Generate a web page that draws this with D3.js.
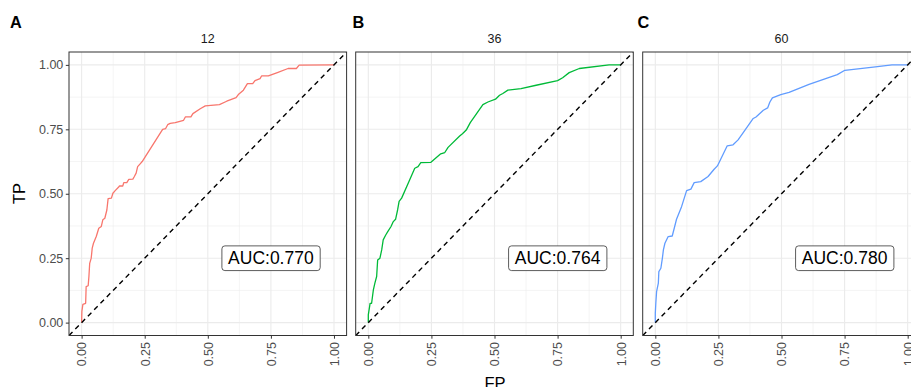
<!DOCTYPE html>
<html><head><meta charset="utf-8">
<script src="https://cdn.jsdelivr.net/npm/d3@7"></script>
<style>body{margin:0;background:#fff}svg{display:block}text{font-family:"Liberation Sans",Arial,sans-serif}</style>
</head><body><svg id="c" width="911" height="387"></svg>
<script>
const panelLetters = ["A","B","C"];
const stripLabels = ["12","36","60"];
const aucLabels = ["AUC:0.770","AUC:0.764","AUC:0.780"];
const colors = ["#F8766D","#00BA38","#619CFF"];
const tickValues = [0,0.25,0.5,0.75,1];
const tickLabels = ["0.00","0.25","0.50","0.75","1.00"];
const roc12 = [[0,0],[0.001,0.043],[0.005,0.071],[0.016,0.075],[0.018,0.14],[0.026,0.143],[0.029,0.18],[0.032,0.23],[0.038,0.25],[0.042,0.289],[0.047,0.308],[0.058,0.334],[0.068,0.366],[0.078,0.373],[0.084,0.399],[0.092,0.405],[0.1,0.437],[0.105,0.481],[0.118,0.483],[0.124,0.502],[0.133,0.512],[0.146,0.525],[0.15,0.53],[0.163,0.53],[0.167,0.543],[0.179,0.543],[0.187,0.556],[0.203,0.557],[0.209,0.567],[0.216,0.58],[0.222,0.605],[0.232,0.616],[0.24,0.625],[0.321,0.75],[0.333,0.753],[0.341,0.768],[0.351,0.773],[0.371,0.776],[0.404,0.785],[0.411,0.798],[0.433,0.798],[0.441,0.811],[0.47,0.83],[0.49,0.841],[0.546,0.846],[0.575,0.859],[0.612,0.873],[0.621,0.885],[0.641,0.902],[0.657,0.927],[0.678,0.927],[0.687,0.939],[0.707,0.947],[0.713,0.957],[0.74,0.957],[0.773,0.969],[0.818,0.986],[0.851,0.986],[0.862,0.999],[0.996,1],[1,1]];
const roc36 = [[0,0],[0,0.03],[0.007,0.075],[0.013,0.075],[0.02,0.127],[0.026,0.153],[0.033,0.179],[0.037,0.243],[0.046,0.25],[0.053,0.282],[0.059,0.321],[0.069,0.34],[0.077,0.353],[0.09,0.373],[0.099,0.392],[0.108,0.401],[0.116,0.437],[0.122,0.47],[0.132,0.483],[0.158,0.541],[0.184,0.599],[0.197,0.605],[0.208,0.621],[0.248,0.622],[0.287,0.655],[0.303,0.66],[0.316,0.68],[0.362,0.724],[0.373,0.733],[0.388,0.747],[0.404,0.776],[0.454,0.846],[0.474,0.856],[0.504,0.867],[0.52,0.882],[0.533,0.889],[0.553,0.902],[0.605,0.908],[0.665,0.921],[0.75,0.939],[0.77,0.95],[0.796,0.97],[0.836,0.986],[0.954,1],[0.994,1],[1,1]];
const roc60 = [[0,0],[0,0.036],[0.002,0.075],[0.005,0.12],[0.012,0.153],[0.014,0.198],[0.022,0.211],[0.028,0.25],[0.032,0.282],[0.038,0.308],[0.051,0.334],[0.067,0.336],[0.075,0.366],[0.084,0.401],[0.104,0.45],[0.124,0.512],[0.141,0.518],[0.154,0.543],[0.18,0.547],[0.209,0.567],[0.233,0.595],[0.246,0.608],[0.285,0.686],[0.308,0.69],[0.328,0.709],[0.356,0.748],[0.388,0.792],[0.399,0.798],[0.428,0.824],[0.445,0.833],[0.454,0.856],[0.464,0.872],[0.497,0.885],[0.53,0.893],[0.609,0.924],[0.675,0.947],[0.721,0.962],[0.751,0.979],[0.872,0.992],[0.938,1],[0.991,1],[1,1]];
const rocs = [roc12, roc36, roc60];

const svg = d3.select("#c");
const panelLeft = [69, 355.7, 642.7], panelW = 277.6, pTop = 52, pBottom = 335.5;
const minorTicks = [-0.125,0.125,0.375,0.625,0.875,1.125];
const y = d3.scaleLinear().domain([-0.05,1.05]).range([pBottom, pTop]);

rocs.forEach((roc, i) => {
  const L = panelLeft[i];
  const x = d3.scaleLinear().domain([-0.05,1.05]).range([L, L+panelW]);
  const g = svg.append("g");
  const clipId = "clip"+i;
  g.append("clipPath").attr("id",clipId).append("rect").attr("x",L).attr("y",pTop).attr("width",panelW).attr("height",pBottom-pTop);
  const pg = g.append("g").attr("clip-path",`url(#${clipId})`);
  minorTicks.forEach(t => {
    pg.append("line").attr("x1",x(t)).attr("x2",x(t)).attr("y1",pTop).attr("y2",pBottom).attr("stroke","#ebebeb").attr("stroke-width",0.55);
    pg.append("line").attr("y1",y(t)).attr("y2",y(t)).attr("x1",L).attr("x2",L+panelW).attr("stroke","#ebebeb").attr("stroke-width",0.55);
  });
  tickValues.forEach(t => {
    pg.append("line").attr("x1",x(t)).attr("x2",x(t)).attr("y1",pTop).attr("y2",pBottom).attr("stroke","#ebebeb").attr("stroke-width",1.1);
    pg.append("line").attr("y1",y(t)).attr("y2",y(t)).attr("x1",L).attr("x2",L+panelW).attr("stroke","#ebebeb").attr("stroke-width",1.1);
  });
  pg.append("path").datum(roc).attr("d", d3.line().x(d=>x(d[0])).y(d=>y(d[1])))
    .attr("fill","none").attr("stroke",colors[i]).attr("stroke-width",1.3).attr("stroke-linejoin","round");
  pg.append("line").attr("x1",x(-0.05)).attr("y1",y(-0.05)).attr("x2",x(1.05)).attr("y2",y(1.05))
    .attr("stroke","#000").attr("stroke-width",1.4).attr("stroke-dasharray","5,4");
  const lab = pg.append("g");
  lab.append("rect").attr("x",x(0.75)-49).attr("y",y(0.25)-12.3).attr("width",98.3).attr("height",24.7)
    .attr("rx",3).attr("fill","#fff").attr("stroke","#333").attr("stroke-width",0.8);
  lab.append("text").attr("x",x(0.75)).attr("y",y(0.25)).attr("text-anchor","middle").attr("dy","0.36em")
    .attr("font-size",17.5).attr("fill","#000").text(aucLabels[i]);
  g.append("rect").attr("x",L).attr("y",pTop).attr("width",panelW).attr("height",pBottom-pTop)
    .attr("fill","none").attr("stroke","#333").attr("stroke-width",1);
  const xa = g.append("g").attr("transform",`translate(0,${pBottom})`)
    .call(d3.axisBottom(x).tickValues(tickValues).tickFormat((d,j)=>tickLabels[j]).tickSize(3.2).tickPadding(2));
  xa.select(".domain").remove();
  xa.selectAll(".tick line").attr("stroke","#333").attr("stroke-width",1);
  xa.selectAll(".tick text").attr("font-size",12.5).attr("fill","#4d4d4d").attr("font-family","Liberation Sans, Arial, sans-serif")
    .attr("transform","rotate(-90)").attr("text-anchor","end").attr("x",-6.5).attr("y",0).attr("dy","0.35em");
  g.append("text").attr("x",L+panelW/2).attr("y",43).attr("text-anchor","middle").attr("font-size",12.5).attr("fill","#1a1a1a").text(stripLabels[i]);
  g.append("text").attr("x",[10,352.5,637.5][i]).attr("y",28.3).attr("font-size",16.3).attr("font-weight","bold").attr("fill","#000").text(panelLetters[i]);
  if (i === 0) {
    const ya = g.append("g").attr("transform",`translate(${L},0)`)
      .call(d3.axisLeft(y).tickValues(tickValues).tickFormat((d,j)=>tickLabels[j]).tickSize(3.2).tickPadding(2.5));
    ya.select(".domain").remove();
    ya.selectAll(".tick line").attr("stroke","#333").attr("stroke-width",1);
    ya.selectAll(".tick text").attr("font-size",12.5).attr("fill","#4d4d4d").attr("font-family","Liberation Sans, Arial, sans-serif");
  }
});
svg.append("text").attr("transform","translate(25,193.5) rotate(-90)").attr("text-anchor","middle").attr("font-size",16.5).attr("fill","#000").text("TP");
svg.append("text").attr("x",495).attr("y",389).attr("text-anchor","middle").attr("font-size",16.5).attr("fill","#000").text("FP");
</script></body></html>
